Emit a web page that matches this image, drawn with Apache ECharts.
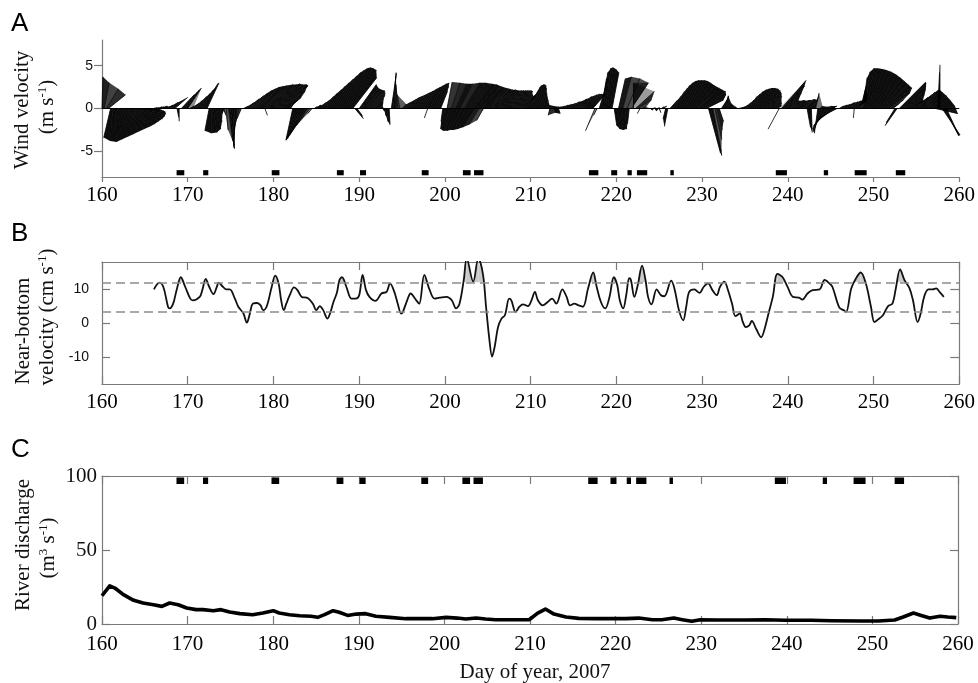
<!DOCTYPE html>
<html>
<head>
<meta charset="utf-8">
<script src="https://cdn.jsdelivr.net/npm/echarts@6/dist/echarts.min.js"></script>
<style>
  html, body { margin: 0; padding: 0; background: #fff; }
  #chart { width: 978px; height: 683px; }
</style>
</head>
<body>
<div id="chart"></div>
<script>
// ---------------- Data ----------------
const dayMin = 160;
const dayMax = 260;

// Wind vectors (m/s), 6-hourly starting at day 160.00; one row per day
const windStartDay = 160;
const windStepDays = 0.25;
const windU = [
  0.1, 0.6, 1.4, 2.0,   -0.8, -0.3, 0.2, 0.6,   1.0, 1.4, 1.8, 2.2,   2.6, 2.9, 3.1, 3.3,
  3.3, 3.2, 2.9, 2.5,   2.0, 1.5, 1.0, 0.6,   0.4, 0.4, 0.5, 0.5,   0.6, 0.5, 0.8, 1.1,
  1.3, 1.4, 1.5, 0.2,   0.0, 1.5, 1.6, 1.6,   1.6, 0.5, 0.8, 1.0,   1.2, 1.4, 1.5, 1.6,
  1.5, 1.4, -0.5, 0.0,  0.4, 0.6, 0.5, 0.3,   0.2, 0.2, 0.2, 0.5,   0.4, 0.2, -0.1, -0.4,
  -0.6, -0.5, 0.6, 1.0, 1.3, 1.6, 1.8, 2.0,   2.2, 2.4, 2.6, 2.8,   0.3, 3.0, 3.2, 3.3,
  3.4, 3.5, 3.4, 3.3,   3.0, 2.6, 2.2, 1.5,   0.5, -0.8, -1.0, -1.2, -1.4, -1.6, -1.8, -2.0,
  -2.1, -1.6, -0.5, 0.3, 0.5, 0.4, 0.6, 0.8,  1.0, 1.2, 1.4, 1.6,   1.8, 2.0, 2.2, 2.4,
  2.6, 2.7, 2.8, 2.9,   3.0, 2.8, 1.0, 0.6,   2.0, 2.0, 2.1, 2.2,   2.0, 1.8, 1.5, 1.1,
  0.8, 0.5, 0.3, 0.2,   0.1, 0.1, 0.1, 0.6,   0.3, 0.0, -0.2, -0.3, 0.5, 0.65, 0.8, 0.9,
  1.0, 1.1, 1.2, 1.25,  1.3, 1.35, 1.4, 1.3,  -0.4, 1.2, 1.3, 1.4,  1.5, 1.2, 0.8, -0.2,
  -0.5, 0.6, -0.7, 1.0, -1.0, 1.3, -1.2, 1.5, -1.4, 1.8, -1.5, 2.0, -1.5, 2.2, -1.4, 2.3,
  -1.2, 2.3, -0.8, 2.4, 2.2, 2.3, 2.4, 2.5,   2.6, 2.7, 2.7, 2.7,   2.7, 2.6, 2.6, 2.5,
  2.2, 2.0, 1.8, 1.6,   1.5, 1.3, 1.3, 1.2,   1.1, 1.0, 1.0, 0.9,   0.8, 0.6, 0.4, 0.3,
  0.2, -0.2, 0.2, 0.1,  0.3, 0.2, 0.5, 0.6,   0.8, 1.0, 1.2, 1.4,   1.5, 1.6, 1.6, 1.7,
  1.7, 1.8, 1.8, 1.7,   1.6, 1.5, -1.1, -0.4, 0.8, 0.6, 0.5, 0.6,   0.6, 0.7, 0.8, 0.3,
  0.4, 0.8, 0.3, 1.0,   0.2, 1.5, -0.2, 2.0,  0.0, 2.2, 1.6, -0.3,  0.5, 0.3, 0.2, 0.3,
  0.2, 0.3, 0.2, 0.3,   0.2, 0.3, 0.4, -0.3,  -0.4, 0.9, 1.1, 1.2,  1.3, 1.3, 1.4, 1.5,
  1.6, 1.7, 1.8, 1.9,   2.0, 2.2, 2.5, 3.0,   2.8, 2.4, 2.0, 1.4,   1.3, 1.0, 0.8, 0.6,
  0.5, 0.8, 0.6, 0.3,   0.4, 0.5, 0.4, 0.3,   0.4, 0.5, 0.5, 0.6,   0.7, 0.8, 0.9, 1.0,
  1.1, 1.2, 1.3, 1.4,   1.5, 1.6, 1.6, 1.5,   1.3, 1.0, 0.8, 0.5,   -1.3, 2.9, 2.6, 2.2,
  1.6, 1.0, 0.8, 0.8,   0.9, 0.9, 1.0, 1.0,   1.1, 0.4, 1.0, 0.1,   0.6, 0.4, -0.4, 0.3,
  -1.0, 0.3, -1.6, 0.4, -2.0, 0.5, -2.2, -2.0, 0.5, 0.6, 0.8, 1.0,  1.2, 1.3, 1.4, -0.1,
  1.3, 1.0, 0.6, 0.5,   0.6, 0.8, 1.0, 1.3,   1.5, 1.8, 2.1, 2.4,   2.6, 2.8, 3.0, 2.5,
  1.5, 0.8, -1.0, -1.4, 3.1, 2.9, 2.6, 2.2,   1.8, 1.5, 1.5, 1.6,   1.8, 1.9, 2.0, 1.9,
  1.7, 1.8, 2.0, 2.2,   2.5, 2.6, 0.2, 0.0,   2.1, 1.7, 1.3
];
const windV = [
  3.7, 3.0, 2.3, 1.6,   -3.4, -3.8, -3.9, -3.6, -3.3, -3.0, -2.7, -2.4, -2.1, -1.8, -1.5, -1.2,
  -0.9, -0.6, -0.4, -0.3, -0.2, -0.1, -0.1, 0.0, 0.1, 0.1, 0.2, 0.2,  0.3, 0.2, 0.4, 0.7,
  0.9, 1.1, 1.3, -1.0,  -1.5, 1.6, 1.9, 2.2,  2.4, 0.3, 0.6, 1.0,   1.4, 1.8, 2.2, 2.6,
  2.9, 3.0, -2.6, -2.9, -2.8, -2.4, -1.5, -0.6, -0.3, -0.8, -2.5, -3.8, -4.6, -4.7, -4.4, -3.5,
  -2.4, -1.2, 0.3, 0.7, 1.1, 1.5, 1.8, 2.1,   2.3, 2.5, 2.6, 2.7,   -0.8, 2.8, 2.8, 2.9,
  2.8, 2.8, 2.8, 2.7,   2.6, 2.4, 2.0, 1.3,   0.8, -3.7, -3.7, -3.6, -3.5, -3.5, -3.4, -3.3,
  -3.1, -2.0, -0.6, 0.2, 0.4, 0.4, 0.7, 1.0,  1.4, 1.8, 2.2, 2.6,   3.0, 3.4, 3.8, 4.2,
  4.5, 4.7, 4.8, 4.7,   4.5, 3.6, -1.2, -0.8, 2.8, 2.4, 2.2, 2.1,   2.0, 1.8, 1.5, 1.1,
  0.6, 0.3, 0.1, -0.3,  -0.8, -1.5, -1.9, 4.1, 4.2, 3.8, 2.8, 1.6,  0.5, 0.7, 0.9, 1.1,
  1.3, 1.45, 1.6, 1.75, 1.9, 2.05, 2.2, 2.3, -1.1, 2.5, 2.7, 2.9,  3.0, 2.6, 2.0, -1.5,
  -2.4, 3.1, -2.6, 3.0, -2.6, 2.9, -2.6, 2.9, -2.5, 3.0, -2.5, 3.0, -2.4, 2.9, -2.2, 2.8,
  -1.9, 2.6, -1.4, 2.4, 2.4, 2.3, 2.2, 2.2,   2.1, 2.1, 2.1, 2.1,   2.1, 2.1, 2.1, 2.0,
  1.8, 1.6, 1.5, 1.4,   1.4, 1.6, 1.9, 2.2,   2.5, 2.7, 2.8, 2.8,   2.7, 2.4, 1.8, 1.0,
  0.4, -0.8, 0.3, -0.5, 0.2, -0.6, 0.3, 0.4,  0.5, 0.6, 0.8, 0.9,   1.1, 1.2, 1.4, 1.5,
  1.6, 1.7, 1.7, 1.7,   1.7, 1.7, -2.6, -0.8, 2.6, 3.5, 4.2, 4.7,   4.8, 4.6, 4.2, -2.0,
  -2.4, 3.5, -2.5, 3.7, -2.4, 3.5, -1.8, 3.0, 3.0, 2.0, 1.0, -0.6,  0.2, 0.0, 0.1, 0.0,
  -0.2, 0.1, -0.3, 0.1, -0.5, 0.2, 0.3, -1.2, -2.1, 1.0, 1.5, 2.0,  2.4, 2.7, 3.0, 3.2,
  3.3, 3.3, 3.3, 3.2,   3.0, 2.7, 2.4, 2.0,   1.6, 1.3, 1.0, -5.2,  -5.5, -5.0, -3.6, -2.5,
  -1.5, 1.2, 1.4, 1.5,  0.6, 0.3, 0.2, 0.1,   0.0, 0.1, 0.2, 0.4,   0.7, 1.0, 1.4, 1.7,
  2.0, 2.2, 2.3, 2.4,   2.4, 2.3, 2.1, 1.8,   1.4, 1.0, 0.6, 0.3,   -2.4, 3.3, 3.2, 2.6,
  1.8, 1.0, 0.9, 0.9,   1.0, 0.9, 1.0, 1.0,   1.1, -2.2, 1.0, -2.8, 1.4, 1.8, -2.9, 0.3,
  -2.7, 0.2, -2.4, 0.3, -2.0, 0.3, -1.5, -1.0, 0.3, 0.4, 0.5, 0.7,  0.8, 0.9, 1.0, -1.1,
  1.0, 1.5, 2.5, 3.6,   4.3, 4.7, 4.7, 4.6,   4.5, 4.3, 4.0, 3.6,   3.2, 2.8, 2.4, 1.8,
  1.0, 0.6, -1.6, -2.0, 3.1, 2.9, 2.2, 1.6,   1.1, 0.8, 1.0, 1.3,   1.6, 1.9, 2.1, 2.2,
  2.2, 1.9, 1.5, 1.0,   0.3, -0.6, 4.2, 5.1,  -3.1, -3.2, -2.8
];

// Pulse periods (day of year), shown as black bars in panels A and C
const eventStart = [168.7, 171.8, 179.8, 187.4, 190.1, 197.3, 202.1, 203.4, 216.8, 219.4, 221.3, 222.4, 226.3, 238.6, 244.2, 247.8, 252.6];
const eventEnd   = [169.6, 172.4, 180.7, 188.2, 190.8, 198.1, 203.0, 204.5, 217.9, 220.1, 221.8, 223.6, 226.7, 239.9, 244.7, 249.2, 253.7];

// Near-bottom velocity (cm/s)
const velDay = [
  166.06, 166.7, 167.15, 167.7, 167.9, 168.3, 168.7, 169.2, 169.7, 170.3, 170.6, 171.4, 171.7, 172.1,
  172.5, 173.0, 173.4, 173.6, 174.1, 174.5, 174.9, 175.5, 175.9, 176.5, 176.9, 177.2, 177.6, 178.1,
  178.5, 178.8, 179.2, 179.8, 180.2, 180.6, 180.9, 181.2, 181.5, 181.9, 182.4, 182.8, 183.3, 184.0,
  184.6, 185.0, 185.4, 185.8, 186.3, 186.6, 187.0, 187.4, 187.7, 188.0, 188.5, 189.1, 189.6, 190.0,
  190.4, 190.8, 191.2, 191.9, 192.6, 193.2, 193.6, 194.1, 194.5, 194.9, 195.1, 195.6, 196.0, 196.6,
  197.0, 197.6, 198.2, 198.8, 199.4, 200.2, 200.8, 201.3, 201.7, 202.2, 202.55, 203.3, 203.9, 204.45,
  204.8, 205.2, 205.5, 205.8, 206.2, 206.6, 207.0, 207.5, 207.75, 208.25, 208.7, 209.1, 209.7, 210.1,
  210.5, 210.85, 211.4, 212.0, 212.5, 213.0, 213.7, 214.2, 214.6, 215.1, 215.6, 216.1, 216.7, 217.3,
  217.7, 218.2, 218.7, 219.2, 219.7, 220.1, 220.4, 220.8, 221.15, 221.5, 221.7, 222.1, 222.5, 223.0,
  223.4, 223.7, 224.1, 224.7, 225.2, 225.6, 226.4, 226.8, 227.3, 227.8, 228.15, 228.5, 229.1, 229.7,
  230.2, 230.7, 231.2, 231.7, 232.1, 232.6, 233.0, 233.5, 233.9, 234.4, 234.75, 235.1, 235.5, 235.8,
  236.3, 236.9, 237.3, 237.7, 238.25, 238.8, 239.4, 240.0, 240.6, 241.3, 241.7, 242.3, 242.9, 243.7,
  244.3, 244.85, 245.2, 246.0, 246.5, 246.8, 247.4, 247.96, 248.5, 249.1, 249.7, 250.1, 250.5, 251.1,
  251.7, 252.2, 252.6, 253.1, 253.6, 254.2, 254.6, 255.15, 255.5, 255.9, 256.4, 256.9, 257.3, 257.7,
  258.2
];
const velCms = [
  9.9, 11.9, 10.7, 4.8, 4.3, 5.7, 9.7, 13.5, 10.7, 7.2, 6.7, 7.7, 9.7, 13.0,
  10.7, 8.5, 10.7, 11.9, 10.7, 9.9, 9.9, 7.2, 4.8, 2.8, 0.1, 2.3, 5.7, 5.9,
  5.2, 3.8, 4.8, 10.7, 14.0, 11.7, 6.7, 3.8, 5.7, 8.2, 10.5, 9.7, 7.7, 7.4,
  5.7, 3.8, 5.0, 3.8, 1.3, 2.8, 6.2, 8.9, 12.7, 13.5, 10.7, 7.2, 7.2, 8.2,
  14.2, 9.7, 7.7, 6.5, 8.7, 9.2, 11.7, 9.2, 5.7, 2.8, 3.3, 6.7, 8.7, 6.9,
  5.7, 14.2, 9.9, 7.2, 7.5, 7.7, 6.7, 4.3, 5.7, 12.7, 19.0, 12.2, 19.0, 14.2,
  4.8, -5.1, -9.9, -7.1, -1.2, 1.3, 2.3, 7.2, 6.7, 3.3, 4.8, 5.5, 5.0, 6.7,
  9.2, 6.7, 5.2, 6.2, 7.2, 5.7, 9.9, 7.7, 5.2, 5.7, 5.2, 4.8, 10.2, 14.9,
  10.7, 6.2, 4.3, 7.7, 13.5, 11.2, 6.7, 4.3, 8.2, 13.2, 12.7, 7.7, 11.2, 16.9,
  12.7, 7.7, 5.5, 9.9, 8.2, 7.9, 12.5, 9.9, 3.8, 0.8, 4.8, 9.2, 9.9, 8.9,
  10.7, 11.7, 9.7, 8.2, 10.7, 12.2, 9.9, 5.7, 2.0, 2.8, 0.3, -1.2, -0.7, 0.6,
  -1.7, -4.2, -1.7, 2.3, 7.7, 14.5, 13.5, 10.5, 7.7, 7.5, 6.9, 8.7, 9.7, 9.9,
  12.7, 11.7, 10.7, 4.6, 3.8, 3.3, 10.2, 13.2, 14.9, 11.7, 4.8, 0.3, 1.0, 2.3,
  5.0, 5.7, 10.2, 15.8, 12.7, 10.2, 6.7, 0.3, 2.8, 7.7, 9.9, 9.9, 10.2, 9.2,
  7.7
];
// Reference levels drawn as dashed lines (cm/s)
const velUpperLevel = 12;
const velLowerLevel = 3.3;

// River discharge (m3/s)
const qDay = [
  160.0, 160.9, 161.5, 162.5, 163.7, 164.8, 166.0, 167.0, 167.9, 168.9, 169.9, 171.0, 171.8, 173.0,
  173.9, 174.9, 176.1, 177.6, 178.8, 180.0, 180.7, 181.9, 183.1, 184.4, 185.2, 186.0, 187.0, 187.7,
  188.7, 189.7, 190.8, 192.0, 193.6, 195.5, 197.1, 198.6, 200.2, 201.5, 202.5, 203.7, 204.8, 206.0,
  208.0, 209.9, 210.9, 211.8, 212.8, 214.2, 215.7, 217.7, 219.6, 221.2, 222.7, 224.3, 225.4, 226.8,
  227.8, 228.9, 229.9, 232.0, 235.1, 237.5, 239.8, 242.9, 245.2, 248.7, 250.7, 252.6, 253.6, 254.8,
  255.7, 256.7, 257.9, 258.8, 259.8
];
const qVal = [
  19.1, 25.8, 24.3, 19.8, 16.0, 14.2, 13.0, 11.9, 14.2, 13.0, 10.8, 9.7, 9.7, 9.0,
  9.7, 8.1, 7.0, 6.3, 7.4, 9.0, 7.4, 6.3, 5.6, 5.2, 4.5, 6.3, 9.0, 7.9,
  5.8, 6.7, 7.0, 5.2, 4.5, 3.6, 3.6, 3.6, 4.5, 4.0, 3.4, 4.0, 3.4, 2.9,
  2.9, 2.9, 7.4, 10.1, 6.7, 4.7, 3.8, 3.6, 3.6, 3.6, 4.0, 2.9, 2.9, 4.0,
  2.9, 1.8, 2.9, 2.7, 2.7, 2.9, 2.5, 2.5, 2.2, 2.0, 2.0, 2.7, 4.7, 7.4,
  5.8, 4.0, 5.2, 4.7, 4.3
];

// ---------------- Styling ----------------
const SERIF = '"Liberation Serif", "Times New Roman", Times, serif';
const SANS = '"Liberation Sans", Arial, Helvetica, sans-serif';
const AXIS_GREY = '#7a7a7a';

const chart = echarts.init(document.getElementById('chart'), null, { renderer: 'canvas' });

function dayAxis(gridIndex, extra) {
  return Object.assign({
    type: 'value', gridIndex: gridIndex, min: dayMin, max: dayMax, interval: 10,
    axisLine: { show: true, onZero: false, lineStyle: { color: AXIS_GREY, width: 1.2 } },
    axisTick: { show: true, inside: true, length: 8, lineStyle: { color: AXIS_GREY, width: 1.2 } },
    axisLabel: { show: true, margin: 8, color: '#000', fontFamily: SERIF, fontSize: 21 },
    splitLine: { show: false }
  }, extra || {});
}
function valueAxis(gridIndex, extra) {
  return Object.assign({
    type: 'value', gridIndex: gridIndex,
    axisLine: { show: true, onZero: false, lineStyle: { color: AXIS_GREY, width: 1.2 } },
    splitLine: { show: false }
  }, extra);
}

// Next stick (one or two steps ahead) pointing within 90 degrees of stick i;
// the area swept between the two is shaded like a dense feather plot.
function sweepPartner(i) {
  for (let j = i + 1; j <= i + 2 && j < windU.length; j++) {
    if (windU[i] * windU[j] + windV[i] * windV[j] > 0) return j;
  }
  return -1;
}
function dist(a, b) { return Math.hypot(a[0] - b[0], a[1] - b[1]); }

// Wind sticks: base at (day, 0), tip offset by (u, v) in equal screen units
function renderStick(params, api) {
  const i = params.dataIndex;
  const t = api.value(0), u = api.value(1), v = api.value(2);
  const base = api.coord([t, 0]);
  const unitPx = api.size([0, 1])[1];
  const tip = [base[0] + u * unitPx, base[1] - v * unitPx];
  const children = [];
  const j = sweepPartner(i);
  if (j >= 0) {
    const bj = api.coord([windStartDay + j * windStepDays, 0]);
    const tj = [bj[0] + windU[j] * unitPx, bj[1] - windV[j] * unitPx];
    // widely spread sticks read lighter, tightly packed ones solid
    const spread = (dist(base, bj) + dist(tip, tj)) / 2;
    const alpha = Math.min(0.95, 4.8 / Math.max(spread, 0.1));
    children.push({
      type: 'polygon', silent: true,
      shape: { points: [base, tip, tj, bj] },
      style: { fill: 'rgba(0,0,0,' + alpha.toFixed(3) + ')' }
    });
  }
  children.push({
    type: 'line', silent: true,
    shape: { x1: base[0], y1: base[1], x2: tip[0], y2: tip[1] },
    style: { stroke: '#000', lineWidth: 0.8 }
  });
  return { type: 'group', children: children };
}

// Black bars marking pulse periods, spanning yLow..yHigh on the panel's axis
function makeEventRenderer(yLow, yHigh) {
  return function (params, api) {
    const p0 = api.coord([api.value(0), yHigh]);
    const p1 = api.coord([api.value(1), yLow]);
    return {
      type: 'rect', silent: true,
      shape: { x: p0[0], y: p0[1], width: p1[0] - p0[0], height: p1[1] - p0[1] },
      style: { fill: '#000' }
    };
  };
}

// Grey fill between the upper reference level and the velocity curve where it exceeds it
const velYMax = 18;
function renderExceedance(params, api) {
  const d0 = api.value(0), v0 = api.value(1), d1 = api.value(2), v1 = api.value(3);
  const lvl = velUpperLevel;
  if (v0 <= lvl && v1 <= lvl) return null;
  const pts = [];
  let xs = d0, xe = d1;
  if (v0 < lvl) xs = d0 + (lvl - v0) / (v1 - v0) * (d1 - d0);
  if (v1 < lvl) xe = d0 + (lvl - v0) / (v1 - v0) * (d1 - d0);
  pts.push(api.coord([xs, lvl]));
  pts.push(api.coord([xs, Math.min(velYMax, v0 < lvl ? lvl : v0)]));
  pts.push(api.coord([xe, Math.min(velYMax, v1 < lvl ? lvl : v1)]));
  pts.push(api.coord([xe, lvl]));
  return { type: 'polygon', silent: true, shape: { points: pts }, style: { fill: '#c9c9c9' } };
}

const windData = windU.map((u, i) => [windStartDay + i * windStepDays, u, windV[i]]);
const eventData = eventStart.map((s, i) => [s, eventEnd[i]]);
const velData = velDay.map((d, i) => [d, velCms[i]]);
const velSegments = velDay.slice(0, -1).map((d, i) => [d, velCms[i], velDay[i + 1], velCms[i + 1]]);
const qData = qDay.map((d, i) => [d, qVal[i]]);

function rotatedTitle(text, x, y, rich) {
  return {
    type: 'text', x: x, y: y, rotation: Math.PI / 2, silent: true,
    style: {
      text: text, fontFamily: SERIF, fontSize: 21, fill: '#111',
      align: 'center', verticalAlign: 'middle', rich: rich || {}
    }
  };
}
const supRich = { sup: { fontFamily: SERIF, fontSize: 13, fill: '#111', verticalAlign: 'top', lineHeight: 14 } };

function panelLetter(ch, y) {
  return { type: 'text', x: 11, y: y, silent: true,
    style: { text: ch, fontFamily: SANS, fontSize: 26, fill: '#000', align: 'left', verticalAlign: 'middle' } };
}

const option = {
  animation: false,
  backgroundColor: '#fff',
  grid: [
    { left: 102, top: 40, width: 858, height: 137 },
    { left: 102, top: 262, width: 858, height: 122 },
    { left: 102, top: 476, width: 856, height: 148 }
  ],
  xAxis: [
    dayAxis(0, {
      axisTick: { show: true, inside: false, length: 5, lineStyle: { color: AXIS_GREY, width: 1.2 } },
      axisLabel: { show: true, margin: 8, color: '#000', fontFamily: SERIF, fontSize: 21 }
    }),
    dayAxis(1),
    dayAxis(1, { position: 'top', axisLabel: { show: false } }),
    dayAxis(2, { axisLabel: { show: true, margin: 10, color: '#000', fontFamily: SERIF, fontSize: 21 } }),
    dayAxis(2, { position: 'top', axisLabel: { show: false } })
  ],
  yAxis: [
    valueAxis(0, {
      min: -8, max: 8,
      axisTick: { show: true, inside: false, length: 8, customValues: [-5, 0, 5], lineStyle: { color: AXIS_GREY, width: 1.2 } },
      axisLabel: { show: true, margin: 9, customValues: [-5, 0, 5], color: '#111', fontFamily: SANS, fontSize: 14 }
    }),
    valueAxis(1, {
      min: -18, max: 18,
      axisTick: { show: true, inside: true, length: 8, customValues: [-10, 0, 10], lineStyle: { color: AXIS_GREY, width: 1.2 } },
      axisLabel: { show: true, margin: 13, customValues: [-10, 0, 10], color: '#111', fontFamily: SANS, fontSize: 14 }
    }),
    valueAxis(1, {
      min: -18, max: 18, position: 'right',
      axisTick: { show: true, inside: true, length: 9, customValues: [-10, 0, 10], lineStyle: { color: AXIS_GREY, width: 1.2 } },
      axisLabel: { show: false }
    }),
    valueAxis(2, {
      min: 0, max: 100, interval: 50,
      axisTick: { show: true, inside: true, length: 8, lineStyle: { color: AXIS_GREY, width: 1.2 } },
      axisLabel: { show: true, margin: 5, color: '#111', fontFamily: SERIF, fontSize: 21 }
    }),
    valueAxis(2, {
      min: 0, max: 100, interval: 50, position: 'right',
      axisTick: { show: true, inside: true, length: 8, lineStyle: { color: AXIS_GREY, width: 1.2 } },
      axisLabel: { show: false }
    })
  ],
  series: [
    {
      type: 'custom', name: 'Wind', xAxisIndex: 0, yAxisIndex: 0,
      data: windData, encode: { x: 0, y: 2 },
      renderItem: renderStick, z: 3,
      markLine: {
        silent: true, symbol: ['none', 'none'], label: { show: false },
        lineStyle: { color: '#000', width: 1.2, type: 'solid' },
        data: [{ yAxis: 0 }]
      }
    },
    {
      type: 'custom', name: 'Pulses A', xAxisIndex: 0, yAxisIndex: 0,
      data: eventData, encode: { x: [0, 1] },
      renderItem: makeEventRenderer(-7.8, -7.2), z: 4
    },
    {
      type: 'custom', name: 'Exceedance', xAxisIndex: 1, yAxisIndex: 1,
      data: velSegments, encode: { x: [0, 2], y: [1, 3] },
      renderItem: renderExceedance, z: 2
    },
    {
      type: 'line', name: 'Near-bottom velocity', xAxisIndex: 1, yAxisIndex: 1,
      data: velData, showSymbol: false, smooth: 0.35, clip: true, z: 4,
      lineStyle: { color: '#111', width: 1.8 },
      markLine: {
        silent: true, symbol: ['none', 'none'], label: { show: false },
        lineStyle: { color: '#8c8c8c', width: 1.6, type: [9, 5] },
        data: [{ yAxis: velUpperLevel }, { yAxis: velLowerLevel }]
      }
    },
    {
      type: 'line', name: 'River discharge', xAxisIndex: 3, yAxisIndex: 3,
      data: qData, showSymbol: false, smooth: false, z: 4,
      lineStyle: { color: '#000', width: 3.6, join: 'round' }
    },
    {
      type: 'custom', name: 'Pulses C', xAxisIndex: 3, yAxisIndex: 3,
      data: eventData, encode: { x: [0, 1] },
      renderItem: makeEventRenderer(94.6, 99), z: 4
    }
  ],
  graphic: [
    panelLetter('A', 24),
    panelLetter('B', 234),
    panelLetter('C', 450),
    rotatedTitle('Wind velocity', 22, 110),
    rotatedTitle('(m s{sup|-1})', 47, 107, supRich),
    rotatedTitle('Near-bottom', 23, 331),
    rotatedTitle('velocity (cm s{sup|-1})', 47, 317, supRich),
    rotatedTitle('River discharge', 23, 545),
    rotatedTitle('(m{sup|3} s{sup|-1})', 48, 548, supRich),
    {
      type: 'text', x: 535, y: 672, silent: true,
      style: { text: 'Day of year, 2007', fontFamily: SERIF, fontSize: 21, fill: '#111', align: 'center', verticalAlign: 'middle' }
    }
  ]
};

chart.setOption(option);
</script>
</body>
</html>
